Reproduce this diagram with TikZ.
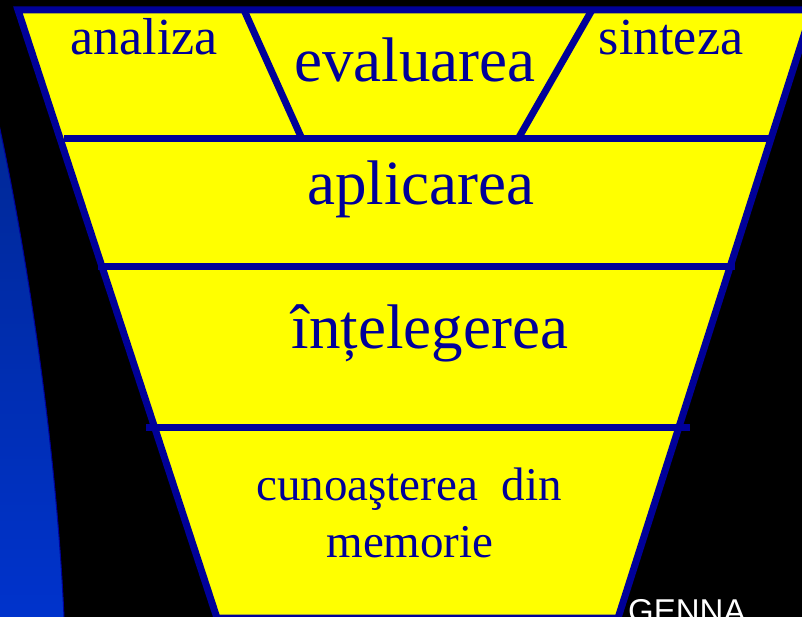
\documentclass[tikz,border=0pt]{standalone}
\usepackage{fontspec}
\setmainfont{Liberation Serif}
\newfontfamily\labelsans{Liberation Sans}
\definecolor{edgeblue}{RGB}{0,0,153}
\definecolor{arcblue}{RGB}{0,51,204}
\definecolor{arctop}{RGB}{0,40,150}
\definecolor{bandyellow}{RGB}{255,255,0}
\begin{document}
\begin{tikzpicture}[x=1pt,y=-1pt,
  edge/.style={draw=edgeblue,line width=7pt},
  txt/.style={text=edgeblue,inner sep=0pt,anchor=base},
  big/.style={txt,font=\fontsize{63}{63}\selectfont},
  mid/.style={txt,font=\fontsize{52}{52}\selectfont},
  small/.style={txt,font=\fontsize{47}{47}\selectfont}]
\useasboundingbox (0,0) rectangle (802,617);
\clip (0,0) rectangle (802,617);
\fill[black] (0,0) rectangle (802,617);

% blue arc on the left
\shade[top color=arctop,bottom color=arcblue] (-2,120) .. controls (20,220) and (55,420) .. (64,617) -- (-2,617) -- cycle;
\draw[edgeblue,line width=1pt] (-2,120) .. controls (20,220) and (55,420) .. (64,617);

% funnel
\fill[bandyellow] (18,10) -- (812,10) -- (618,618) -- (217,618) -- cycle;
\draw[edge] (18,10) -- (812,10) -- (618,618) -- (217,618) -- cycle;

% bands
\draw[edge] (64,139) -- (770,139);
\draw[edge] (98,267) -- (735,267);
\draw[edge] (146,427) -- (690,427);
\draw[edge] (244,10) -- (302,139);
\draw[edge] (592,10) -- (518,139);

% labels
\node[mid] (analiza) at (144,55) {analiza};
\node[big] (evaluarea) at (415,82) {evaluarea};
\node[mid] (sinteza) at (671,55) {sinteza};
\node[big] (aplicarea) at (421,205) {aplicarea};
\node[big] (intelegerea) at (430,348) {înțelegerea};
\node[small] (cunoasterea) at (409,500) {cunoaşterea\ \ din};
\node[small] (memorie) at (410,557) {memorie};
\node[inner sep=0pt,anchor=base west,text=white,font=\labelsans\fontsize{33}{33}\selectfont] (genna) at (628,622) {GENNA};
\end{tikzpicture}
\end{document}
